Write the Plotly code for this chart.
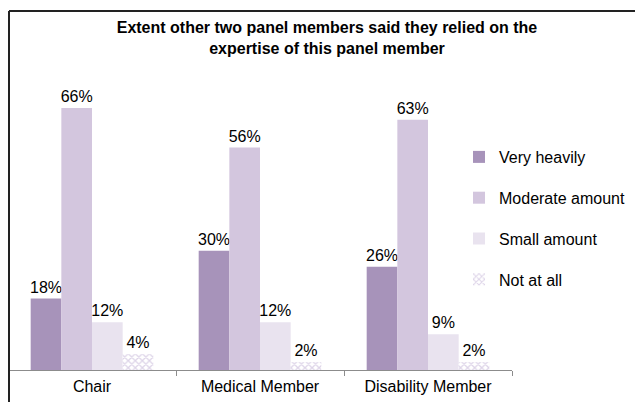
import plotly.graph_objects as go

categories = ["Chair", "Medical Member", "Disability Member"]
very_heavily = [18, 30, 26]
moderate_amount = [66, 56, 63]
small_amount = [12, 12, 9]
not_at_all = [4, 2, 2]

# the page body adds an 8px margin, so the figure is drawn 8px in
OFF = 8
W, H = 643 - OFF, 402 - OFF
# plot area in screen px
PX0, PX1, PY0, PY1 = 8, 512, 92, 370
L, R, T, B = PX0 - OFF, W - (PX1 - OFF), PY0 - OFF, H - (PY1 - OFF)


def px_x(x):
    return (x - PX0) / (PX1 - PX0)


def px_y(y):
    return (PY1 - y) / (PY1 - PY0)


font = dict(family="Liberation Sans, Arial, sans-serif", size=16, color="#000000")

fig = go.Figure()
series = [
    ("Very heavily", very_heavily, "#a793ba", None),
    ("Moderate amount", moderate_amount, "#d3c6de", None),
    ("Small amount", small_amount, "#e9e3ef", None),
    ("Not at all", not_at_all, "#ffffff",
     dict(shape="x", fgcolor="#bcaad2", bgcolor="#ffffff", size=5, solidity=0.45)),
]
for i, (name, vals, color, pattern) in enumerate(series):
    marker = dict(color=color, line=dict(width=0))
    if pattern:
        marker["pattern"] = pattern
    fig.add_trace(go.Bar(
        name=name, x=categories, y=vals, marker=marker,
        text=[f"{v}%" for v in vals], textposition="outside",
        textfont=font, constraintext="none", cliponaxis=False,
        legendgroup=f"g{i}",
    ))

fig.update_layout(
    width=W, height=H,
    margin=dict(l=L, r=R, t=T, b=B),
    paper_bgcolor="white", plot_bgcolor="white",
    font=font,
    barmode="group", bargap=0.27, bargroupgap=0,
    title=dict(
        text="<b>Extent other two panel members said they relied on the<br>expertise of this panel member</b>",
        x=px_x(327), xref="paper", xanchor="center",
        y=1 - (33 - OFF) / H, yanchor="top",
        font=dict(family="Liberation Sans, Arial, sans-serif", size=16, color="#000000"),
    ),
    xaxis=dict(
        showline=True, linecolor="#8c8c8c", linewidth=1,
        ticks="outside", tickson="boundaries", ticklen=5, tickcolor="#8c8c8c",
        showgrid=False, tickfont=font, ticklabelstandoff=2,
    ),
    yaxis=dict(range=[0, 70], visible=False, showgrid=False),
    legend=dict(
        x=px_x(459), y=px_y(140), xanchor="left", yanchor="top",
        traceorder="grouped", tracegroupgap=17, font=font,
        bgcolor="rgba(0,0,0,0)",
    ),
    showlegend=True,
    shapes=[
        dict(type="line", xref="paper", yref="paper",
             x0=px_x(9), x1=px_x(660), y0=px_y(11), y1=px_y(11),
             line=dict(color="#222222", width=2)),
        dict(type="line", xref="paper", yref="paper",
             x0=px_x(9), x1=px_x(9), y0=px_y(11), y1=px_y(420),
             line=dict(color="#222222", width=2)),
    ],
)

fig.write_html("out.html")
